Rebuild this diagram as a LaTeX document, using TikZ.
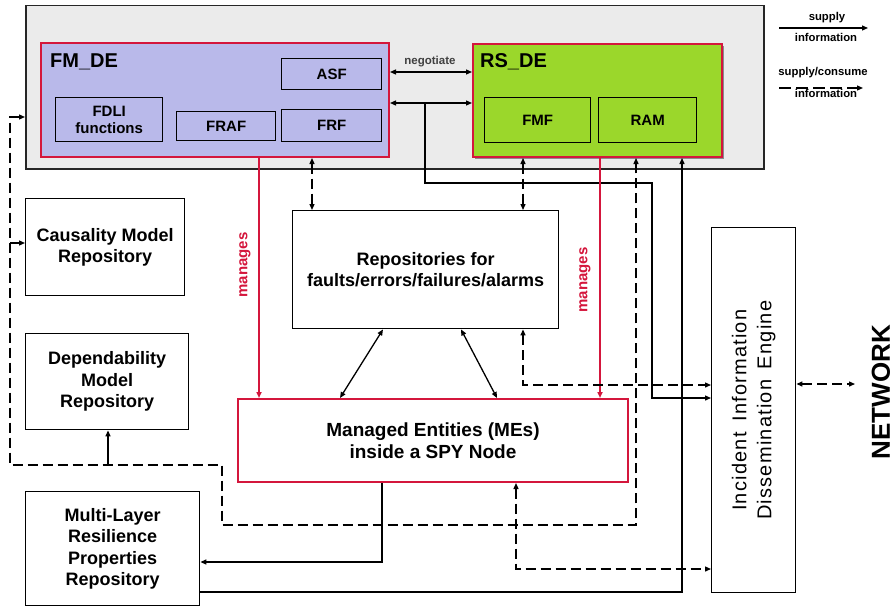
\documentclass[tikz,border=0pt]{standalone}
\usepackage{fontspec}
\setmainfont{Liberation Sans}
\usetikzlibrary{arrows.meta}
\definecolor{panelgray}{HTML}{EBEBEB}
\definecolor{fmfill}{HTML}{B9B9EA}
\definecolor{rsfill}{HTML}{9BD72B}
\definecolor{mred}{HTML}{D4163C}
\definecolor{lblgray}{HTML}{404040}
\begin{document}
\begin{tikzpicture}[x=1pt,y=-1pt,
  box/.style={draw=black, line width=1.4pt, align=center, inner sep=0pt,
    anchor=north west, font=\fontsize{18}{21.5}\selectfont\bfseries},
  subbox/.style={box, font=\fontsize{15}{17}\selectfont\bfseries},
  conn/.style={line width=1.3pt},
  dconn/.style={conn, dash pattern=on 10pt off 5pt},
  mg/.style={draw=mred, line width=1.8pt},
  one/.style={-{Triangle[length=6pt,width=5pt]}},
  two/.style={{Triangle[length=6pt,width=5pt]}-{Triangle[length=6pt,width=5pt]}},
  mgtxt/.style={text=mred, rotate=90, font=\fontsize{15}{17}\selectfont\bfseries},
  lgd/.style={font=\fontsize{11.3}{13}\selectfont\bfseries, inner sep=0pt}]
\useasboundingbox (0,0) rectangle (894,607);

% outer panel
\node[draw=black!85, line width=1.5pt, fill=panelgray, minimum width=738pt,
  minimum height=163pt, anchor=north west, inner sep=0pt] (panel) at (25,5) {};

% FM_DE and its functions
\node[draw=mred, line width=2pt, fill=fmfill, minimum width=348pt,
  minimum height=114pt, anchor=north west, inner sep=0pt] (fm) at (40,42) {};
\node[anchor=west, font=\fontsize{20}{22}\selectfont\bfseries, inner sep=0pt] (fmlbl) at (50,62) {FM\_DE};
\node[subbox, minimum width=100pt, minimum height=31pt] (asf) at (281,58) {ASF};
\node[subbox, minimum width=107pt, minimum height=44pt] (fdli) at (55,97) {FDLI\\functions};
\node[subbox, minimum width=99pt, minimum height=29pt] (fraf) at (176,111) {FRAF};
\node[subbox, minimum width=100pt, minimum height=32pt] (frf) at (281,109) {FRF};

% RS_DE and its functions
\fill[black!45] (475,46) rectangle (724,159);
\node[draw=mred, line width=2pt, fill=rsfill, minimum width=249pt,
  minimum height=113pt, anchor=north west, inner sep=0pt] (rs) at (472,43) {};
\node[anchor=west, font=\fontsize{20}{22}\selectfont\bfseries, inner sep=0pt] (rslbl) at (480,62) {RS\_DE};
\node[subbox, minimum width=106pt, minimum height=45pt] (fmf) at (484,97) {FMF};
\node[subbox, minimum width=98pt, minimum height=45pt] (ram) at (598,97) {RAM};

% repositories and entities
\node[box, minimum width=266pt, minimum height=118pt] (repo) at (292,210)
  {Repositories for\\faults/errors/failures/alarms};
\node[box, minimum width=159pt, minimum height=97pt] (caus) at (25,198)
  {Causality Model\\Repository};
\node[box, minimum width=163pt, minimum height=96pt] (dep) at (25,333)
  {Dependability\\Model\\Repository};
\node[box, minimum width=174pt, minimum height=114pt] (mlr) at (25,491)
  {Multi-Layer\\Resilience\\Properties\\Repository};
\node[box, draw=mred, line width=2pt, minimum width=390pt, minimum height=83pt,
  font=\fontsize{19}{22}\selectfont\bfseries] (me) at (237,398)
  {Managed Entities (MEs)\\inside a SPY Node};
\node[box, minimum width=84pt, minimum height=365pt] (iide) at (711,227) {};
\node[rotate=90, align=center, font=\fontsize{20}{25}\selectfont\addfontfeatures{LetterSpace=6}]
  (iidetxt) at (iide.center) {Incident\hspace{4pt} Information\\Dissemination\hspace{4pt} Engine};
\node[rotate=90, font=\fontsize{26}{28}\selectfont\bfseries, inner sep=0pt] (net) at (881,392) {NETWORK};

% labels
\node[font=\fontsize{11.5}{13}\selectfont\bfseries, text=lblgray, inner sep=0pt] (neg) at (430,62) {negotiate};
\node[mgtxt] (mg1) at (245,265) {manages};
\node[mgtxt] (mg2) at (585,280) {manages};

% negotiation between the two engines
\draw[conn,two] (fm.east |- 0,72) -- (rs.west |- 0,72);
\draw[conn,two] (fm.east |- 0,103) -- (rs.west |- 0,103);
\coordinate (j1) at (425,103);
\draw[conn,one] (j1) -- (425,183) -- (652,183) -- (652,398) -- (iide.west |- 0,398);

% engines to repositories
\draw[dconn,two] (fm.south -| 312,0) -- (repo.north -| 312,0);
\draw[dconn,two] (rs.south -| 523,0) -- (repo.north -| 523,0);

% manages
\draw[mg,one] (fm.south -| 259,0) -- (me.north -| 259,0);
\draw[mg,one] (rs.south -| 600,0) -- (me.north -| 600,0);

% repositories to entities
\draw[conn,two] (repo.south -| 383,0) -- (me.north -| 340,0);
\draw[conn,two] (repo.south -| 461,0) -- (me.north -| 497,0);

% information towards the dissemination engine
\draw[dconn,two] (repo.south -| 523,0) -- (523,385) -- (iide.west |- 0,385);
\draw[dconn,two] (me.south -| 516,0) -- (516,569) -- (iide.west |- 0,569);
\draw[conn,one] (me.south -| 382,0) -- (382,562) -- (mlr.east |- 0,562);
\draw[conn,one] (mlr.east |- 0,592) -- (682,592) -- (rs.south -| 682,0);

% model repositories feedback
\draw[dconn,two] (panel.west |- 0,117) -- (10,117) -- (10,465) -- (222,465)
  -- (222,525) -- (636,525) -- (rs.south -| 636,0);
\coordinate (j2) at (10,243);
\draw[dconn,one] (j2) -- (caus.west |- 0,243);
\coordinate (j3) at (108,465);
\draw[conn,one] (j3) -- (dep.south -| 108,0);

% network link
\coordinate (netend) at (855,384);
\draw[dconn,two] (iide.east |- 0,384) -- (netend);

% legend
\coordinate (l1a) at (779,28); \coordinate (l1b) at (868,28);
\coordinate (l2a) at (779,88); \coordinate (l2b) at (863,88);
\draw[conn,one] (l1a) -- (l1b);
\draw[conn,one,dash pattern=on 12pt off 5pt] (l2a) -- (l2b);
\node[lgd] (lg1) at (827,18) {supply};
\node[lgd] (lg2) at (826,37) {information};
\node[lgd] (lg3) at (823,73) {supply/consume};
\node[lgd] (lg4) at (826,93) {information};
\end{tikzpicture}
\end{document}
